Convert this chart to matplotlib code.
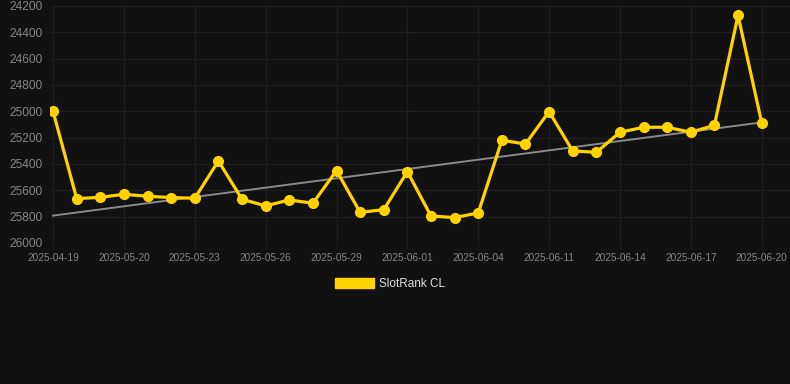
import numpy as np
import matplotlib
matplotlib.use("Agg")
import matplotlib.pyplot as plt
from matplotlib.patches import Patch

# dates on the x axis (only every third one is labelled)
dates = ["2025-04-19", "2025-05-18", "2025-05-19", "2025-05-20", "2025-05-21",
         "2025-05-22", "2025-05-23", "2025-05-24", "2025-05-25", "2025-05-26",
         "2025-05-27", "2025-05-28", "2025-05-29", "2025-05-30", "2025-05-31",
         "2025-06-01", "2025-06-02", "2025-06-03", "2025-06-04", "2025-06-09",
         "2025-06-10", "2025-06-11", "2025-06-12", "2025-06-13", "2025-06-14",
         "2025-06-15", "2025-06-16", "2025-06-17", "2025-06-18", "2025-06-19",
         "2025-06-20"]

# rank values
rank = [25000, 25663, 25653, 25630, 25645, 25655, 25660, 25377, 25668, 25718,
        25673, 25698, 25450, 25767, 25747, 25458, 25795, 25807, 25772, 25220,
        25248, 25002, 25301, 25311, 25159, 25121, 25121, 25159, 25106, 24271,
        25086]

# trend line values at the first and last date
trend = [25792, 25084]

y_ticks = [24200, 24400, 24600, 24800, 25000, 25200, 25400, 25600, 25800, 26000]

bg = "#111111"
grid_col = "#1f1f1f"
gold = "#FFD200"

fig = plt.figure(figsize=(7.9, 3.84), dpi=100, facecolor=bg)
ax = fig.add_axes([50 / 790, (384 - 243) / 384, 740 / 790, 237 / 384], facecolor=bg)

x = np.arange(len(dates))

ax.plot([x[0], x[-1]], trend, color="#8a8a8a", linewidth=1.4, zorder=2)

ax.plot(x, rank, color=gold, linewidth=2.3, marker="o", markersize=7,
        markerfacecolor=gold, markeredgecolor=gold, zorder=3)

ax.set_ylim(26000, 24200)
ax.set_yticks(y_ticks)
ax.set_xlim(-0.13, 31.2)
ax.set_xticks(x[::3])
ax.set_xticklabels(dates[::3])

ax.grid(True, color=grid_col, linewidth=0.9)
for s in ax.spines.values():
    s.set_visible(False)

ax.tick_params(axis="y", colors="#858585", labelsize=8.6, length=0, pad=5)
ax.tick_params(axis="x", colors="#858585", labelsize=7.2, length=4, pad=3,
               color=grid_col)
for lbl in ax.get_yticklabels() + ax.get_xticklabels():
    lbl.set_fontfamily("Liberation Sans")

handle = Patch(facecolor=gold, edgecolor=gold)
leg = fig.legend([handle], ["SlotRank CL"], loc="center", bbox_to_anchor=(390 / 790, 1 - 284 / 384),
                 frameon=False, handlelength=3.3, handleheight=0.9, handletextpad=0.5,
                 prop={"family": "Liberation Sans", "size": 8.5})
for t in leg.get_texts():
    t.set_color("#dddddd")

fig.savefig("out.png", dpi=100, facecolor=bg)
